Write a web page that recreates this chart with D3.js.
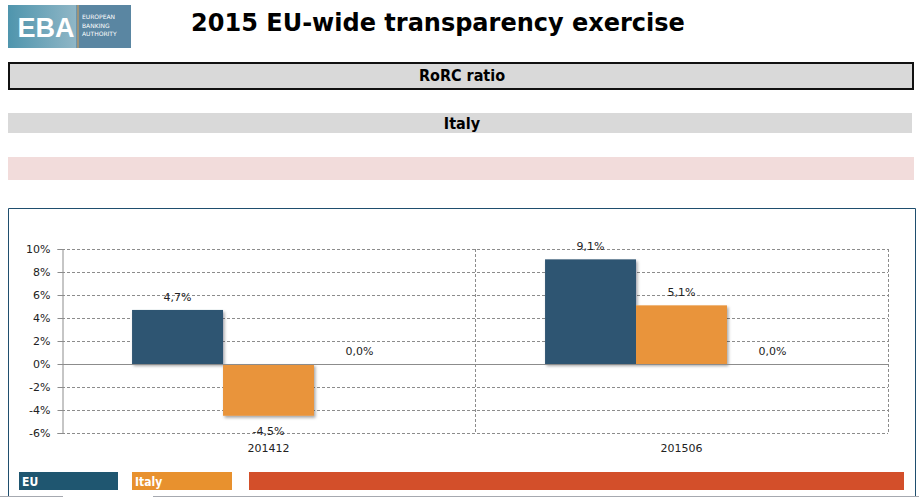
<!DOCTYPE html>
<html><head><meta charset="utf-8">
<script src="https://cdn.jsdelivr.net/npm/d3@7/dist/d3.min.js"></script>
<style>body{margin:0;background:#fff}svg{display:block}</style>
</head><body>
<svg id="c" width="919" height="497"></svg>
<script>
const categories = ["201412", "201506"];
const seriesNames = ["EU", "Italy", ""];
const euValues = [4.7, 9.1];
const italyValues = [-4.5, 5.1];
const otherValues = [0.0, 0.0];
const yTicks = [-6, -4, -2, 0, 2, 4, 6, 8, 10];
const seriesColors = ["#2e5572", "#e9943b", "#d34f2a"];
const legendColors = ["#1f5670", "#e8912e", "#d34f2a"];

const svg = d3.select("#c");
const defs = svg.append("defs");
const f = defs.append("filter").attr("id","sh").attr("x","-10%").attr("y","-10%").attr("width","130%").attr("height","130%");
f.append("feDropShadow").attr("dx",1.5).attr("dy",2).attr("stdDeviation",1.5).attr("flood-color","#000").attr("flood-opacity",0.35);
const lg = defs.append("linearGradient").attr("id","lg").attr("x1","0").attr("x2","1");
lg.append("stop").attr("offset","0").attr("stop-color","#4f95ad");
lg.append("stop").attr("offset","0.55").attr("stop-color","#8fb6c6");
lg.append("stop").attr("offset","0.56").attr("stop-color","#5a86a2");
lg.append("stop").attr("offset","1").attr("stop-color","#5a86a2");

// Logo
svg.append("rect").attr("x",8).attr("y",5).attr("width",123).attr("height",43).attr("fill","url(#lg)");
svg.append("line").attr("x1",78).attr("x2",78).attr("y1",5).attr("y2",48).attr("stroke","#e0a050").attr("stroke-width",1);
svg.append("text").attr("x",46).attr("y",37).attr("text-anchor","middle").attr("fill","#fff")
  .attr("font-family","Liberation Sans, Arial, sans-serif").attr("font-weight","bold").attr("font-size",27).text("EBA");
["EUROPEAN","BANKING","AUTHORITY"].forEach((t,i)=>{
  svg.append("text").attr("x",82).attr("y",19+i*8.5).attr("fill","#fff").attr("font-family","DejaVu Sans, sans-serif")
    .attr("font-size",6).text(t);
});

// Title
svg.append("text").attr("x",438).attr("y",31).attr("text-anchor","middle")
  .attr("font-family","DejaVu Sans, sans-serif").attr("font-weight","bold").attr("font-size",24).attr("fill","#000")
  .text("2015 EU-wide transparency exercise");

// Header bars
svg.append("rect").attr("x",9).attr("y",63).attr("width",904).attr("height",26).attr("fill","#d9d9d9").attr("stroke","#111").attr("stroke-width",2);
svg.append("text").attr("x",462).attr("y",81).attr("text-anchor","middle").attr("font-family","Liberation Sans Narrow, DejaVu Sans Condensed, sans-serif")
  .attr("font-weight","bold").attr("font-size",16).text("RoRC ratio");
svg.append("rect").attr("x",8).attr("y",113).attr("width",904).attr("height",20).attr("fill","#d9d9d9");
svg.append("text").attr("x",462).attr("y",129).attr("text-anchor","middle").attr("font-family","Liberation Sans Narrow, DejaVu Sans Condensed, sans-serif")
  .attr("font-weight","bold").attr("font-size",16).text("Italy");
svg.append("rect").attr("x",8).attr("y",157).attr("width",906).attr("height",23).attr("fill","#f2dcdb");

// Chart frame
svg.append("path").attr("d","M8.5,497 V208.5 H915.5 V497").attr("fill","none").attr("stroke","#1f4e6e").attr("stroke-width",1);

// Scales
const x0 = d3.scaleBand().domain(categories).range([62, 888]).paddingInner(0).paddingOuter(0);
const x1 = d3.scaleBand().domain([0,1,2]).range([0, x0.bandwidth()]).paddingInner(0).paddingOuter(0.77);
const y = d3.scaleLinear().domain([-6, 10]).range([433, 249]);

// Grid
const g = svg.append("g");
g.selectAll(".hg").data(yTicks.filter(d=>d!==0)).join("line")
  .attr("x1",62).attr("x2",888).attr("y1",d=>Math.round(y(d))+0.5).attr("y2",d=>Math.round(y(d))+0.5)
  .attr("stroke","#8c8c8c").attr("stroke-dasharray","3,2").attr("stroke-width",1);
g.selectAll(".vg").data(categories).join("line")
  .attr("x1",d=>Math.round(x0(d)+x0.bandwidth())+0.5).attr("x2",d=>Math.round(x0(d)+x0.bandwidth())+0.5)
  .attr("y1",y(10)).attr("y2",y(-6))
  .attr("stroke","#8c8c8c").attr("stroke-dasharray","3,2");

// Bars
const data = categories.map((c,i)=>({c, vals:[euValues[i], italyValues[i], otherValues[i]]}));
const bars = svg.append("g").attr("filter","url(#sh)");
data.forEach(d=>{
  d.vals.forEach((v,j)=>{
    if (v===0) return;
    bars.append("rect").attr("x",x0(d.c)+x1(j)).attr("width",x1.bandwidth())
      .attr("y",y(Math.max(0,v))).attr("height",Math.abs(y(v)-y(0)))
      .attr("fill",seriesColors[j]);
  });
});

// Zero line and y axis
svg.append("line").attr("x1",62).attr("x2",888).attr("y1",Math.round(y(0))+0.5).attr("y2",Math.round(y(0))+0.5).attr("stroke","#8c8c8c");
const yAxis = d3.axisLeft(y).tickValues(yTicks).tickSize(5).tickFormat(d=>d+"%");
const ya = svg.append("g").attr("transform","translate(62.5,0)").call(yAxis);
ya.select(".domain").attr("stroke","#8c8c8c");
ya.selectAll(".tick line").attr("stroke","#8c8c8c");
ya.selectAll("text").attr("font-family","DejaVu Sans, sans-serif").attr("font-size",11).attr("fill","#222").attr("dx",-4);

// Value labels
const fmt = v => v.toFixed(1).replace(".", ",") + "%";
data.forEach(d=>{
  d.vals.forEach((v,j)=>{
    const cx = x0(d.c)+x1(j)+x1.bandwidth()/2;
    const ty = v >= 0 ? y(v) - 9 : y(v) + 19;
    svg.append("text").attr("x",cx).attr("y",ty).attr("text-anchor","middle")
      .attr("font-family","DejaVu Sans, sans-serif").attr("font-size",11).attr("fill","#222").text(fmt(v));
  });
});

// Category labels
svg.selectAll(".cl").data(categories).join("text")
  .attr("x",d=>x0(d)+x0.bandwidth()/2).attr("y",452).attr("text-anchor","middle")
  .attr("font-family","DejaVu Sans, sans-serif").attr("font-size",11).attr("fill","#222").text(d=>d);

// Legend
const legX = [[19,99],[132,100],[249,655]];
seriesNames.forEach((n,i)=>{
  svg.append("rect").attr("x",legX[i][0]).attr("y",472).attr("width",legX[i][1]).attr("height",18).attr("fill",legendColors[i]);
  if (n) svg.append("text").attr("x",legX[i][0]+3).attr("y",486).attr("fill","#fff")
    .attr("font-family","Liberation Sans Narrow, DejaVu Sans Condensed, sans-serif").attr("font-weight","bold").attr("font-size",12).text(n);
});

// bottom gray line
svg.append("line").attr("x1",0).attr("x2",63).attr("y1",496.5).attr("y2",496.5).attr("stroke","#a6a9b0");
svg.append("line").attr("x1",153).attr("x2",919).attr("y1",496.5).attr("y2",496.5).attr("stroke","#a6a9b0");
</script>
</body></html>
